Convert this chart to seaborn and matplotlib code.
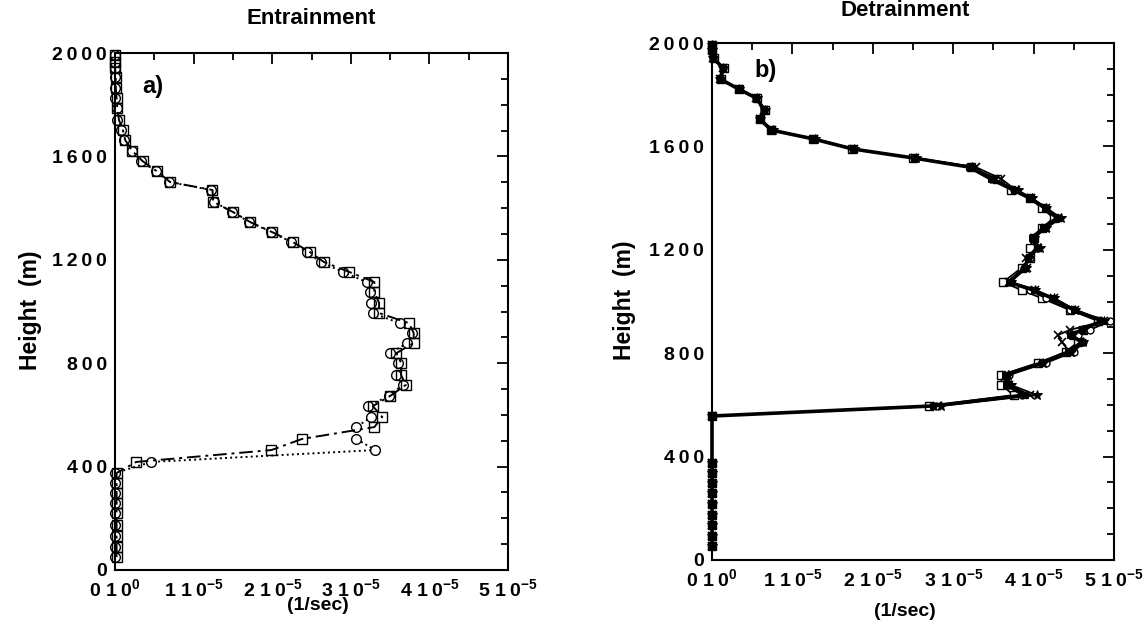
import matplotlib
matplotlib.use("Agg")
import matplotlib.pyplot as plt
import seaborn as sns
from matplotlib.ticker import MultipleLocator

# rates are in units of 1e-5 1/sec, heights in m

# --- a) Entrainment
entr_height = [50, 89, 132, 174, 220, 259, 298, 337, 375, 418,
               464, 507, 553, 592, 634, 673, 716, 754, 801, 839,
               878, 917, 955, 994, 1033, 1075, 1114, 1153, 1191, 1230,
               1269, 1307, 1346, 1385, 1424, 1470, 1501, 1543, 1582, 1621,
               1663, 1702, 1741, 1787, 1826, 1865, 1907, 1942, 1965, 1992]
entr_circle = [0, 0, 0, 0, 0, 0, 0, 0, 0, 0.46,
               3.31, 3.07, 3.07, 3.26, 3.22, 3.48, 3.66, 3.58, 3.60, 3.50,
               3.72, 3.78, 3.62, 3.28, 3.26, 3.24, 3.20, 2.90, 2.62, 2.44,
               2.24, 1.99, 1.71, 1.49, 1.26, 1.22, 0.69, 0.52, 0.33, 0.22,
               0.11, 0.08, 0.03, 0.02, 0.0, 0, 0, 0, 0, 0]
entr_square = [0.02, 0.02, 0.02, 0.02, 0.02, 0.02, 0.02, 0.02, 0.02, 0.27,
               1.99, 2.38, 3.30, 3.40, 3.28, 3.50, 3.70, 3.64, 3.64, 3.58,
               3.80, 3.80, 3.74, 3.36, 3.36, 3.30, 3.30, 2.98, 2.66, 2.48,
               2.26, 2.00, 1.72, 1.50, 1.25, 1.24, 0.70, 0.53, 0.35, 0.22,
               0.13, 0.10, 0.05, 0.03, 0.02, 0.01, 0.01, 0.0, 0.0, 0.0]

# --- b) Detrainment
detr_height = [54, 93, 135, 174, 217, 259, 298, 337, 375,
               557, 596, 638, 677, 716, 762, 805, 843, 870, 890, 925,
               967, 1013, 1044, 1075, 1130, 1168, 1207, 1246, 1284, 1323,
               1362, 1400, 1431, 1474, 1520, 1555, 1590, 1629, 1663, 1706,
               1741, 1787, 1822, 1861, 1903, 1942, 1973, 1992]
detr_fill_sq = [0, 0, 0, 0, 0, 0, 0, 0, 0,
                0, 2.75, 3.89, 3.66, 3.64, 4.10, 4.43, 4.60, 4.45, 4.60, 4.85,
                4.50, 4.23, 4.00, 3.69, 3.89, 3.93, 4.04, 3.98, 4.12, 4.29,
                4.14, 3.95, 3.75, 3.47, 3.20, 2.51, 1.75, 1.26, 0.74, 0.59,
                0.65, 0.55, 0.33, 0.10, 0.14, 0.01, 0, 0]
detr_open_sq = [0, 0, 0, 0, 0, 0, 0, 0, 0,
                0, 2.70, 3.75, 3.60, 3.60, 4.05, 4.40, 4.55, 4.50, 4.62, 4.80,
                4.45, 4.10, 3.85, 3.62, 3.85, 3.95, 3.95, 4.00, 4.10, 4.25,
                4.10, 3.95, 3.72, 3.55, 3.22, 2.50, 1.74, 1.25, 0.73, 0.60,
                0.66, 0.56, 0.33, 0.11, 0.15, 0.02, 0, 0]
detr_cross = [0, 0, 0, 0, 0, 0, 0, 0, 0,
              0, 2.80, 3.95, 3.70, 3.66, 4.12, 4.45, 4.35, 4.30, 4.45, 4.88,
              4.52, 4.25, 4.02, 3.70, 3.92, 3.90, 4.06, 4.00, 4.15, 4.30,
              4.16, 3.97, 3.78, 3.60, 3.28, 2.52, 1.76, 1.27, 0.75, 0.60,
              0.65, 0.55, 0.34, 0.10, 0.14, 0.01, 0, 0]
detr_circle = [0, 0, 0, 0, 0, 0, 0, 0, 0,
               0, 2.78, 3.85, 3.68, 3.70, 4.15, 4.50, 4.62, 4.55, 4.70, 4.95,
               4.45, 4.15, 3.95, 3.72, 3.88, 3.95, 4.05, 4.00, 4.14, 4.30,
               4.15, 3.96, 3.76, 3.50, 3.22, 2.52, 1.75, 1.27, 0.74, 0.60,
               0.65, 0.55, 0.33, 0.10, 0.14, 0.01, 0, 0]
detr_star = [0, 0, 0, 0, 0, 0, 0, 0, 0,
             0, 2.85, 4.04, 3.72, 3.68, 4.12, 4.46, 4.62, 4.48, 4.62, 4.88,
             4.52, 4.25, 4.02, 3.72, 3.90, 3.94, 4.08, 4.00, 4.16, 4.34,
             4.16, 3.98, 3.80, 3.50, 3.24, 2.54, 1.76, 1.28, 0.76, 0.60,
             0.66, 0.56, 0.34, 0.10, 0.14, 0.01, 0, 0]

T = "\u2009"  # thin space, the old plot has wide letter spacing
x_ticks = [0, 1, 2, 3, 4, 5]
x_ticklabels = ["0 1" + T + "0$^{0}$", "1 1" + T + "0$^{-5}$", "2 1" + T + "0$^{-5}$",
                "3 1" + T + "0$^{-5}$", "4 1" + T + "0$^{-5}$", "5 1" + T + "0$^{-5}$"]
y_ticks = [0, 400, 800, 1200, 1600, 2000]
y_ticklabels = ["0", "4" + T + "0" + T + "0", "8" + T + "0" + T + "0",
                "1" + T + "2" + T + "0" + T + "0", "1" + T + "6" + T + "0" + T + "0",
                "2" + T + "0" + T + "0" + T + "0"]

sns.set_style("white")
plt.rcParams['font.family'] = ['Liberation Sans', 'DejaVu Sans']
plt.rcParams['font.weight'] = 'bold'
plt.rcParams['text.color'] = 'black'
plt.rcParams['axes.labelcolor'] = 'black'
plt.rcParams['xtick.color'] = 'black'
plt.rcParams['ytick.color'] = 'black'
plt.rcParams['mathtext.fontset'] = 'custom'
plt.rcParams['mathtext.rm'] = 'Liberation Sans:bold'
plt.rcParams['mathtext.it'] = 'Liberation Sans:bold'
plt.rcParams['mathtext.bf'] = 'Liberation Sans:bold'
plt.rcParams['mathtext.default'] = 'rm'

W, H = 1146, 639
fig = plt.figure(figsize=(W / 100, H / 100), dpi=100)
ax1 = fig.add_axes([115 / W, 1 - 570 / H, 393 / W, 517 / H])
ax2 = fig.add_axes([712 / W, 1 - 560 / H, 402 / W, 517 / H])


def style(ax):
    ax.set_xlim(0, 5)
    ax.set_ylim(0, 2000)
    ax.set_xticks(x_ticks)
    ax.set_xticklabels(x_ticklabels)
    ax.set_yticks(y_ticks)
    ax.set_yticklabels(y_ticklabels)
    ax.xaxis.set_minor_locator(MultipleLocator(0.5))
    ax.yaxis.set_minor_locator(MultipleLocator(100))
    ax.tick_params(which='both', direction='in', top=True, right=True,
                   width=1.3, colors='black', labelsize=14)
    ax.tick_params(which='major', length=8, pad=6)
    ax.tick_params(which='minor', length=5)
    for s in ax.spines.values():
        s.set_linewidth(1.5)
        s.set_color('black')
    ax.set_xlabel("")
    ax.set_ylabel("")


common = dict(orient='y', sort=False, estimator=None, color='black', clip_on=False)

sns.lineplot(x=entr_circle, y=entr_height, ax=ax1, marker='o', markersize=7,
             markerfacecolor='white', markeredgecolor='black', markeredgewidth=1,
             linewidth=1.4, linestyle=':', **common)
sns.lineplot(x=entr_square, y=entr_height, ax=ax1, marker='s', markersize=7,
             markerfacecolor='none', markeredgecolor='black', markeredgewidth=1,
             linewidth=1.4, dashes=False, linestyle=(0, (7, 2.5, 1.5, 2.5)), **common)

sns.lineplot(x=detr_open_sq, y=detr_height, ax=ax2, marker='s', markersize=5.5,
             markerfacecolor='white', markeredgecolor='black', markeredgewidth=1,
             linewidth=1.3, **common)
sns.lineplot(x=detr_cross, y=detr_height, ax=ax2, marker='x', markersize=5.5,
             markeredgecolor='black', markeredgewidth=1.2, linewidth=1.3, **common)
sns.lineplot(x=detr_circle, y=detr_height, ax=ax2, marker='o', markersize=5,
             markerfacecolor='white', markeredgecolor='black', markeredgewidth=1,
             linewidth=1.3, **common)
sns.lineplot(x=detr_star, y=detr_height, ax=ax2, marker='*', markersize=7,
             markeredgecolor='black', linewidth=1.3, **common)
sns.lineplot(x=detr_fill_sq, y=detr_height, ax=ax2, marker='s', markersize=5,
             markerfacecolor='black', markeredgecolor='black',
             linewidth=2.6, **common)

style(ax1)
style(ax2)

fig.text(153 / W, 1 - 86 / H, "a)", fontsize=17, fontweight='bold',
         ha='center', va='center')
fig.text(766 / W, 1 - 70 / H, "b)", fontsize=17, fontweight='bold',
         ha='center', va='center')

fig.text(311 / W, 1 - 18 / H, "Entrainment", fontsize=16, fontweight='bold',
         ha='center', va='center')
fig.text(905 / W, 1 - 10 / H, "Detrainment", fontsize=16, fontweight='bold',
         ha='center', va='center')
fig.text(30 / W, 1 - 310 / H, "Height  (m)", fontsize=16.5, fontweight='bold',
         rotation=90, ha='center', va='center')
fig.text(624 / W, 1 - 300 / H, "Height  (m)", fontsize=16.5, fontweight='bold',
         rotation=90, ha='center', va='center')
fig.text(318 / W, 1 - 606 / H, "(1/sec)", fontsize=14, fontweight='bold',
         ha='center', va='center')
fig.text(905 / W, 1 - 611 / H, "(1/sec)", fontsize=14, fontweight='bold',
         ha='center', va='center')

fig.savefig("out.png", dpi=100, facecolor='white')
